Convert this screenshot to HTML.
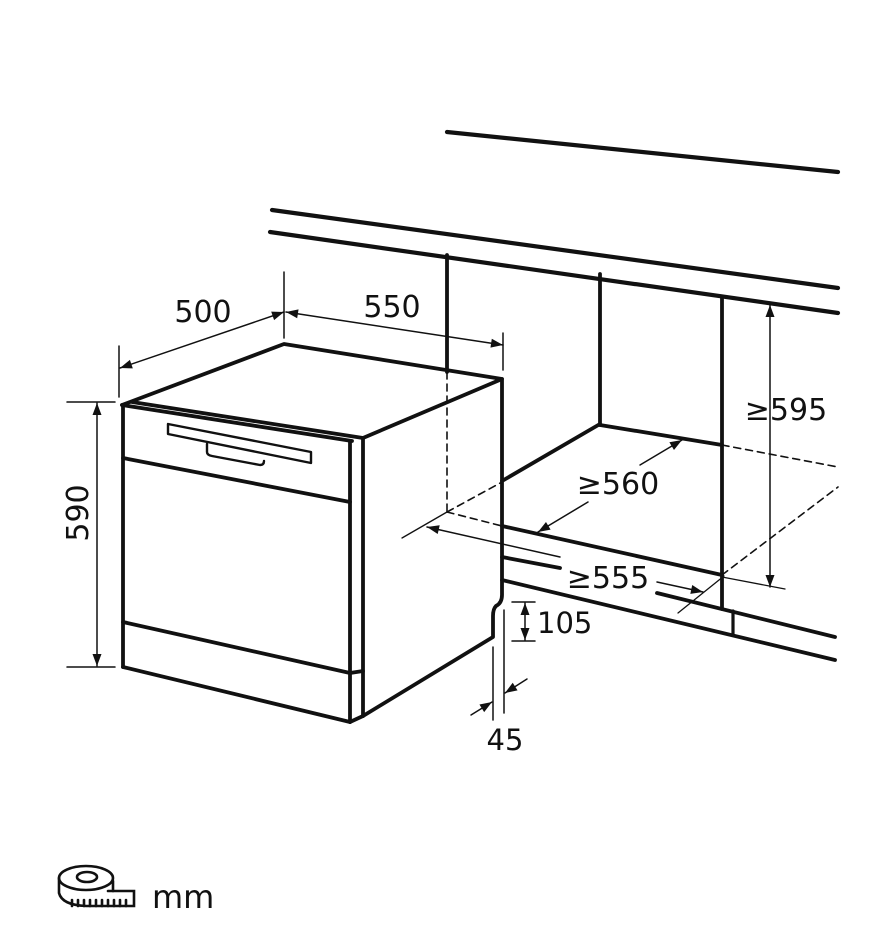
<!DOCTYPE html>
<html><head><meta charset="utf-8"><style>
html,body{margin:0;padding:0;background:#fff;}
svg{display:block;}
text{font-family:"DejaVu Sans","Liberation Sans",sans-serif;fill:#111;}
</style></head><body>
<svg width="886" height="939" viewBox="0 0 886 939" xmlns="http://www.w3.org/2000/svg">
<defs>
<marker id="a" viewBox="0 0 12 10" refX="12" refY="5" markerWidth="13" markerHeight="10" orient="auto-start-reverse" markerUnits="userSpaceOnUse"><path d="M0,0.5 L12,5 L0,9.5 z" fill="#111"/></marker>
</defs>
<g stroke="#111" fill="none" stroke-linecap="round">
<line x1="447" y1="132" x2="838" y2="172" stroke-width="4.2"/>
<line x1="272" y1="210" x2="838" y2="288" stroke-width="4.2"/>
<line x1="270" y1="232" x2="838" y2="313" stroke-width="4.2"/>
<line x1="447" y1="255" x2="447" y2="372" stroke-width="3.8"/>
<line x1="447" y1="372" x2="447" y2="512" stroke-width="1.6" stroke-dasharray="7,5"/>
<line x1="600" y1="274" x2="600" y2="425" stroke-width="3.8"/>
<line x1="722" y1="298" x2="722" y2="609" stroke-width="3.8"/>
<line x1="600" y1="425" x2="722" y2="445" stroke-width="3.8"/>
<line x1="722" y1="445" x2="838" y2="467" stroke-width="1.6" stroke-dasharray="7,5"/>
<line x1="600" y1="424" x2="502" y2="481" stroke-width="3.8"/>
<line x1="447" y1="512" x2="502" y2="482" stroke-width="1.6" stroke-dasharray="7,5"/>
<line x1="447" y1="512" x2="502" y2="526" stroke-width="1.6" stroke-dasharray="7,5"/>
<line x1="502" y1="526" x2="722" y2="575" stroke-width="3.8"/>
<line x1="722" y1="575" x2="838" y2="487" stroke-width="1.6" stroke-dasharray="7,5"/>
<line x1="502" y1="557" x2="560" y2="568" stroke-width="3.8"/>
<line x1="657" y1="593" x2="835" y2="637" stroke-width="3.8"/>
<line x1="502" y1="580" x2="835" y2="660" stroke-width="3.8"/>
<line x1="733" y1="611" x2="733" y2="635" stroke-width="3.2"/>
<g stroke-width="3.8" stroke-linejoin="round">
<polyline points="122,405 284,344 502,379 363,438"/>
<line x1="122" y1="405" x2="352" y2="441"/>
<line x1="132" y1="402" x2="363" y2="438"/>
<line x1="123" y1="405" x2="123" y2="667"/>
<line x1="123" y1="667" x2="350" y2="722"/>
<line x1="350" y1="441" x2="350" y2="722"/>
<line x1="363" y1="438" x2="363" y2="716"/>
<line x1="350" y1="722" x2="363" y2="716"/>
<line x1="123" y1="458" x2="350" y2="502"/>
<line x1="123" y1="622" x2="350" y2="673"/>
<line x1="350" y1="673" x2="363" y2="671"/>
<path d="M502,379 L502,595 Q502,603 496,606 Q493,609 493,616 L493,637 L363,716"/>
</g>
<g stroke-width="2.4" stroke-linejoin="round">
<path d="M168,424 L311,452 L311,463 L168,434 Z"/>
<path d="M207,444 L207,452 Q207,455 212,456 L260,465 Q264,465 264,461"/>
</g>
<line x1="119" y1="346" x2="119" y2="397" stroke-width="1.5"/>
<line x1="284" y1="272" x2="284" y2="338" stroke-width="1.5"/>
<line x1="503" y1="333" x2="503" y2="370" stroke-width="1.5"/>
<line x1="120" y1="368" x2="284" y2="312" stroke-width="1.5" marker-start="url(#a)" marker-end="url(#a)"/>
<line x1="286" y1="312" x2="503" y2="345" stroke-width="1.5" marker-start="url(#a)" marker-end="url(#a)"/>
<line x1="67" y1="402" x2="115" y2="402" stroke-width="1.5"/>
<line x1="67" y1="667" x2="115" y2="667" stroke-width="1.5"/>
<line x1="97" y1="403" x2="97" y2="666" stroke-width="1.5" marker-start="url(#a)" marker-end="url(#a)"/>
<line x1="770" y1="305" x2="770" y2="587" stroke-width="1.5" marker-start="url(#a)" marker-end="url(#a)"/>
<line x1="722" y1="577" x2="785" y2="589" stroke-width="1.3"/>
<line x1="640" y1="465" x2="682" y2="440" stroke-width="1.5" marker-end="url(#a)"/>
<line x1="588" y1="502" x2="538" y2="532" stroke-width="1.5" marker-end="url(#a)"/>
<line x1="402" y1="538" x2="447" y2="512" stroke-width="1.3"/>
<line x1="560" y1="557" x2="427" y2="527" stroke-width="1.5" marker-end="url(#a)"/>
<line x1="657" y1="582" x2="703" y2="592" stroke-width="1.5" marker-end="url(#a)"/>
<line x1="678" y1="613" x2="724" y2="576" stroke-width="1.3"/>
<line x1="512" y1="602" x2="535" y2="602" stroke-width="1.5"/>
<line x1="512" y1="641" x2="535" y2="641" stroke-width="1.5"/>
<line x1="525" y1="603" x2="525" y2="640" stroke-width="1.5" marker-start="url(#a)" marker-end="url(#a)"/>
<line x1="493" y1="647" x2="493" y2="720" stroke-width="1.5"/>
<line x1="504" y1="610" x2="504" y2="713" stroke-width="1.5"/>
<line x1="471" y1="715" x2="492" y2="702" stroke-width="1.5" marker-end="url(#a)"/>
<line x1="527" y1="679" x2="505" y2="693" stroke-width="1.5" marker-end="url(#a)"/>
<g stroke-width="2.6">
<ellipse cx="86" cy="878" rx="27" ry="12"/>
<ellipse cx="87" cy="877" rx="10" ry="5"/>
<path d="M59,878 L59,893 Q62,905 86,906 L134,906 L134,891 L108,891"/>
<path d="M113,881 L113,891"/>
<path d="M72,906 v-6 M78,906 v-6 M84,906 v-6 M90,906 v-6 M96,906 v-6 M102,906 v-6 M108,906 v-6 M114,906 v-6 M120,906 v-6 M126,906 v-6"/>
</g>
</g>
<text x="203" y="322" font-size="30" text-anchor="middle">500</text>
<text x="392" y="317" font-size="30" text-anchor="middle">550</text>
<text transform="translate(88,513) rotate(-90)" font-size="30" text-anchor="middle">590</text>
<text x="786" y="420" font-size="30" text-anchor="middle">≥595</text>
<text x="618" y="494" font-size="30" text-anchor="middle">≥560</text>
<text x="608" y="588" font-size="30" text-anchor="middle">≥555</text>
<text x="537" y="633" font-size="29">105</text>
<text x="505" y="750" font-size="29" text-anchor="middle">45</text>
<text x="152" y="908" font-size="32">mm</text>
</svg>
</body></html>
